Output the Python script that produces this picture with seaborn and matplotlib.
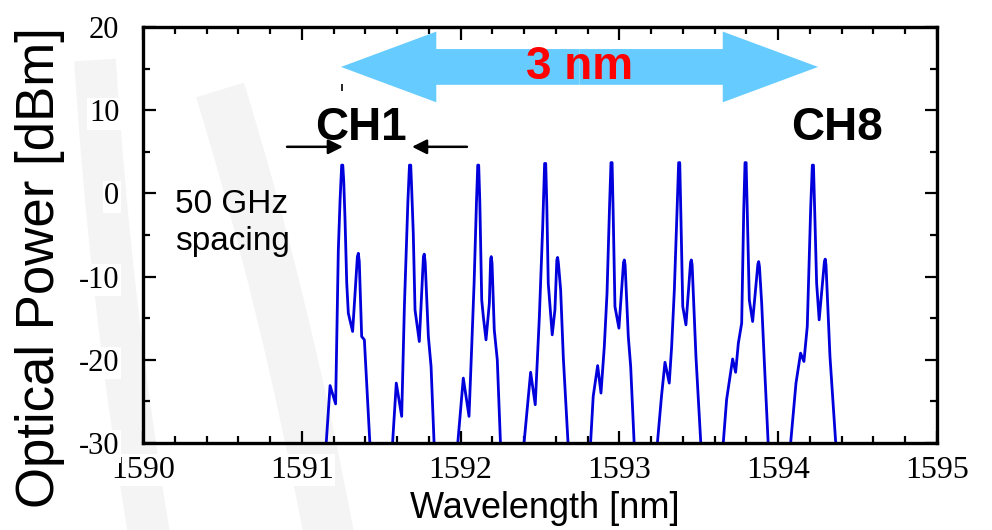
import numpy as np
import pandas as pd
import matplotlib
matplotlib.use("Agg")
import matplotlib.pyplot as plt
from matplotlib.patches import FancyArrow, PathPatch
from matplotlib.path import Path
from matplotlib.ticker import MultipleLocator
import seaborn as sns

# spectrum, one list per channel (nm, dBm)
ch1_nm = [1591.152, 1591.178, 1591.213, 1591.230, 1591.241, 1591.251, 1591.258, 1591.264, 1591.272, 1591.283,
          1591.293, 1591.320, 1591.350, 1591.356, 1591.362, 1591.377, 1591.394, 1591.430]
ch1_db = [-30.5, -23.1, -25.3, -6.8, -0.8, 3.4, 3.4, 1.5, -3.0, -10.8, -14.4, -16.6, -7.6, -7.2, -8.2, -17.2, -17.6, -30.5]
ch2_nm = [1591.570, 1591.595, 1591.629, 1591.646, 1591.668, 1591.678, 1591.686, 1591.692, 1591.702, 1591.713,
          1591.740, 1591.766, 1591.771, 1591.777, 1591.797, 1591.814, 1591.834]
ch2_db = [-30.5, -22.8, -26.8, -13.6, -1.0, 3.4, 3.4, 0.5, -4.8, -14.0, -17.8, -7.6, -7.3, -8.3, -17.2, -20.8, -30.5]
ch3_nm = [1591.980, 1592.017, 1592.053, 1592.070, 1592.085, 1592.100, 1592.108, 1592.114, 1592.121, 1592.133,
          1592.143, 1592.160, 1592.181, 1592.189, 1592.193, 1592.198, 1592.212, 1592.231, 1592.252]
ch3_db = [-30.5, -22.2, -26.8, -18.4, -10.8, -1.0, 3.4, 3.4, -1.0, -12.8, -14.8, -17.6, -13.2, -7.9, -7.6, -8.4,
          -16.4, -20.0, -30.5]
ch4_nm = [1592.397, 1592.441, 1592.470, 1592.496, 1592.517, 1592.529, 1592.536, 1592.543, 1592.552, 1592.577,
          1592.594, 1592.606, 1592.611, 1592.616, 1592.630, 1592.647, 1592.678]
ch4_db = [-30.5, -21.5, -25.4, -14.8, -4.0, 3.6, 3.6, -1.5, -10.8, -17.0, -14.0, -8.0, -7.7, -8.4, -11.6, -19.8, -30.5]
ch5_nm = [1592.817, 1592.835, 1592.863, 1592.884, 1592.905, 1592.922, 1592.938, 1592.947, 1592.954, 1592.961,
          1592.972, 1592.997, 1593.026, 1593.031, 1593.036, 1593.056, 1593.071, 1593.094]
ch5_db = [-30.5, -24.4, -20.7, -24.0, -18.4, -12.0, -1.5, 3.7, 3.7, -2.5, -13.6, -16.2, -8.3, -8.0, -8.6, -17.2,
          -20.8, -30.5]
ch6_nm = [1593.237, 1593.265, 1593.287, 1593.314, 1593.329, 1593.346, 1593.364, 1593.373, 1593.380, 1593.387,
          1593.399, 1593.419, 1593.448, 1593.453, 1593.458, 1593.482, 1593.514]
ch6_db = [-30.5, -24.4, -20.3, -22.8, -18.4, -11.6, -1.5, 3.7, 3.7, -2.5, -13.6, -15.8, -8.3, -8.0, -8.6, -19.6, -30.5]
ch7_nm = [1593.652, 1593.675, 1593.713, 1593.732, 1593.749, 1593.770, 1593.783, 1593.791, 1593.798, 1593.805,
          1593.818, 1593.839, 1593.872, 1593.877, 1593.882, 1593.896, 1593.913, 1593.938]
ch7_db = [-30.5, -24.8, -19.9, -21.5, -18.0, -15.6, -2.0, 3.7, 3.7, -2.0, -12.8, -15.4, -8.5, -8.2, -8.8, -13.2,
          -20.4, -30.5]
ch8_nm = [1594.076, 1594.112, 1594.141, 1594.162, 1594.183, 1594.205, 1594.215, 1594.222, 1594.229, 1594.242,
          1594.258, 1594.291, 1594.296, 1594.301, 1594.326, 1594.364]
ch8_db = [-30.5, -22.8, -19.2, -20.2, -16.0, -1.5, 3.4, 3.4, -1.5, -10.8, -15.2, -8.2, -7.9, -8.6, -19.6, -30.5]

channels_nm = [ch1_nm, ch2_nm, ch3_nm, ch4_nm, ch5_nm, ch6_nm, ch7_nm, ch8_nm]
channels_db = [ch1_db, ch2_db, ch3_db, ch4_db, ch5_db, ch6_db, ch7_db, ch8_db]

x_ticks = [1590, 1591, 1592, 1593, 1594, 1595]
y_ticks = [-30, -20, -10, 0, 10, 20]

rows = []
for i, (wl, pw) in enumerate(zip(channels_nm, channels_db)):
    for a, b in zip(wl, pw):
        rows.append((i + 1, a, b))
df = pd.DataFrame(rows, columns=["ch", "wl", "p"])

sns.set_style("white")
plt.rcParams["font.family"] = ["Liberation Sans", "DejaVu Sans"]
plt.rcParams["axes.unicode_minus"] = False
for k in ["text.color", "axes.labelcolor", "xtick.color", "ytick.color"]:
    plt.rcParams[k] = "black"

fig = plt.figure(figsize=(9.92, 5.30), dpi=100)


def px(x, y):
    return (x / 992, 1 - y / 530)


# faint watermark bands in the background
for pts, w in [([(95, 60), (110, 300), (150, 540)], 30),
               ([(220, 90), (285, 300), (330, 540)], 36)]:
    path = Path([px(*p) for p in pts], [Path.MOVETO, Path.CURVE3, Path.CURVE3])
    fig.add_artist(PathPatch(path, transform=fig.transFigure, fill=False,
                             edgecolor="#f4f4f4", lw=w, capstyle="butt", zorder=-5))

ax = fig.add_axes([143 / 992, 1 - 443 / 530, 794 / 992, 416 / 530])
ax.patch.set_alpha(0)

sns.lineplot(data=df, x="wl", y="p", units="ch", estimator=None, sort=False,
             color="#0000dd", lw=2.0, ax=ax, legend=False)

ax.set_xlim(1590, 1595)
ax.set_ylim(-30, 20)
ax.set_xticks(x_ticks)
ax.set_yticks(y_ticks)
ax.xaxis.set_minor_locator(MultipleLocator(0.2))
ax.yaxis.set_minor_locator(MultipleLocator(5))
ax.tick_params(which="both", direction="in", top=True, right=True, bottom=True, left=True,
               width=1.6, colors="black")
ax.tick_params(which="major", length=9)
ax.tick_params(which="minor", length=5)
ax.tick_params(axis="x", which="major", pad=9, labelsize=23)
ax.tick_params(axis="y", which="major", pad=17, labelsize=22)
for lab in ax.get_xticklabels() + ax.get_yticklabels():
    lab.set_fontfamily("Liberation Serif")
    lab.set_bbox(dict(facecolor="white", edgecolor="none", pad=1))
for s in ax.spines.values():
    s.set_visible(True)
    s.set_linewidth(2.4)
    s.set_color("black")
ax.set_xlabel("")
ax.set_ylabel("")

fig.text(40 / 992, 1 - 268 / 530, "Optical Power [dBm]", rotation=90,
         ha="center", va="center", fontsize=38)
fig.text(545 / 992, 1 - 508 / 530, "Wavelength [nm]", ha="center", va="center",
         fontsize=26)

# 3 nm span arrow
mid = 1592.749
for d in (1, -1):
    ax.add_patch(FancyArrow(mid, 15.2, d * 1.502, 0, width=4.3, head_width=8.5,
                            head_length=0.6, length_includes_head=True,
                            color="#66ccff", lw=0, zorder=3))
ax.text(mid, 15.2, "3 nm", color="red", fontsize=33, fontweight="bold",
        ha="center", va="center", zorder=4)
ax.vlines(1591.25, 12.3, 13.2, color="black", lw=1.2)

ax.text(1591.37, 7.9, "CH1", fontsize=33, fontweight="bold", ha="center", va="center")
ax.text(1594.37, 7.9, "CH8", fontsize=33, fontweight="bold", ha="center", va="center")

ax.annotate("", xy=(1591.259, 5.6), xytext=(1590.907, 5.6),
            arrowprops=dict(arrowstyle="-|>", color="black", lw=1.8,
                            mutation_scale=22, shrinkA=0, shrinkB=0))
ax.annotate("", xy=(1591.694, 5.6), xytext=(1592.040, 5.6),
            arrowprops=dict(arrowstyle="-|>", color="black", lw=1.8,
                            mutation_scale=22, shrinkA=0, shrinkB=0))

ax.text(1590.2, -3.5, "50 GHz\nspacing", fontsize=24, ha="left", va="center",
        linespacing=1.25)

fig.savefig("out.png", dpi=100)
